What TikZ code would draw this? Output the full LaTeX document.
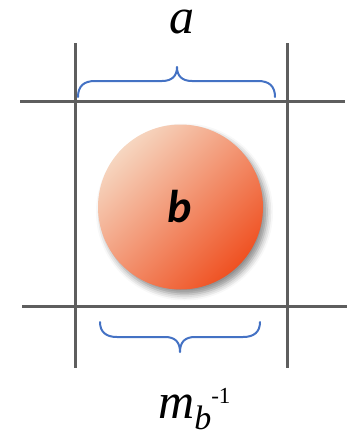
\documentclass[tikz,border=0pt]{standalone}
\usepackage{fontspec}
\setmainfont{Liberation Serif}
\newfontfamily\carl{Carlito}
\usetikzlibrary{shadows.blur}
\definecolor{gridgray}{HTML}{5E5E5E}
\definecolor{braceblue}{HTML}{4472C4}
\definecolor{peach}{HTML}{F6D6C0}
\definecolor{redorange}{HTML}{EF5122}
\tikzset{
  gridline/.style={draw=gridgray, line width=3pt},
  bracepath/.style={draw=braceblue, line width=2pt, line cap=round, line join=round},
  lbl/.style={anchor=base, inner sep=0pt, text height=23pt, text depth=0pt, font=\fontsize{50}{50}\selectfont\itshape}
}
\begin{document}
\begin{tikzpicture}[x=1pt,y=-1pt]
\useasboundingbox (0,0) rectangle (347,434);
% grid lines
\draw[gridline] (20,101) -- (345,101);
\draw[gridline] (22,306) -- (347,306);
\draw[gridline] (75,43) -- (75,368);
\draw[gridline] (287,43) -- (287,368);
% top brace
\draw[bracepath] (78,97) .. controls (78,86) and (84,81) .. (95,81)
  -- (162,81) .. controls (172,81) and (177,76) .. (177,67)
  .. controls (177,76) and (182,81) .. (192,81)
  -- (258,81) .. controls (269,81) and (275,86) .. (275,97);
% bottom brace
\draw[bracepath] (100,322) .. controls (100,332) and (106,337) .. (117,337)
  -- (165,337) .. controls (175,337) and (180,342) .. (180,352)
  .. controls (180,342) and (185,337) .. (195,337)
  -- (243,337) .. controls (254,337) and (260,332) .. (260,322);
% ball
\shade[blur shadow={shadow xshift=4pt, shadow yshift=-5pt, shadow blur radius=6pt, shadow opacity=45},
  top color=peach, bottom color=redorange, shading angle=45]
  (180.5,207) circle (82.5);
% labels
\node[lbl] (la) at (182,33) {a};
\node[anchor=base, inner sep=0pt, text height=32pt, text depth=0pt] (lb) at (180,222)
  {\carl\bfseries\itshape\fontsize{46}{46}\selectfont b};
\node[anchor=base west, inner sep=0pt, text height=30pt, text depth=11pt] (lm) at (158,418)
  {\fontsize{50}{50}\selectfont\itshape m\raisebox{-11pt}[24pt][0pt]{\fontsize{34}{34}\selectfont b}\raisebox{15pt}[30pt][0pt]{\upshape\fontsize{23}{23}\selectfont -1}};
\end{tikzpicture}
\end{document}
